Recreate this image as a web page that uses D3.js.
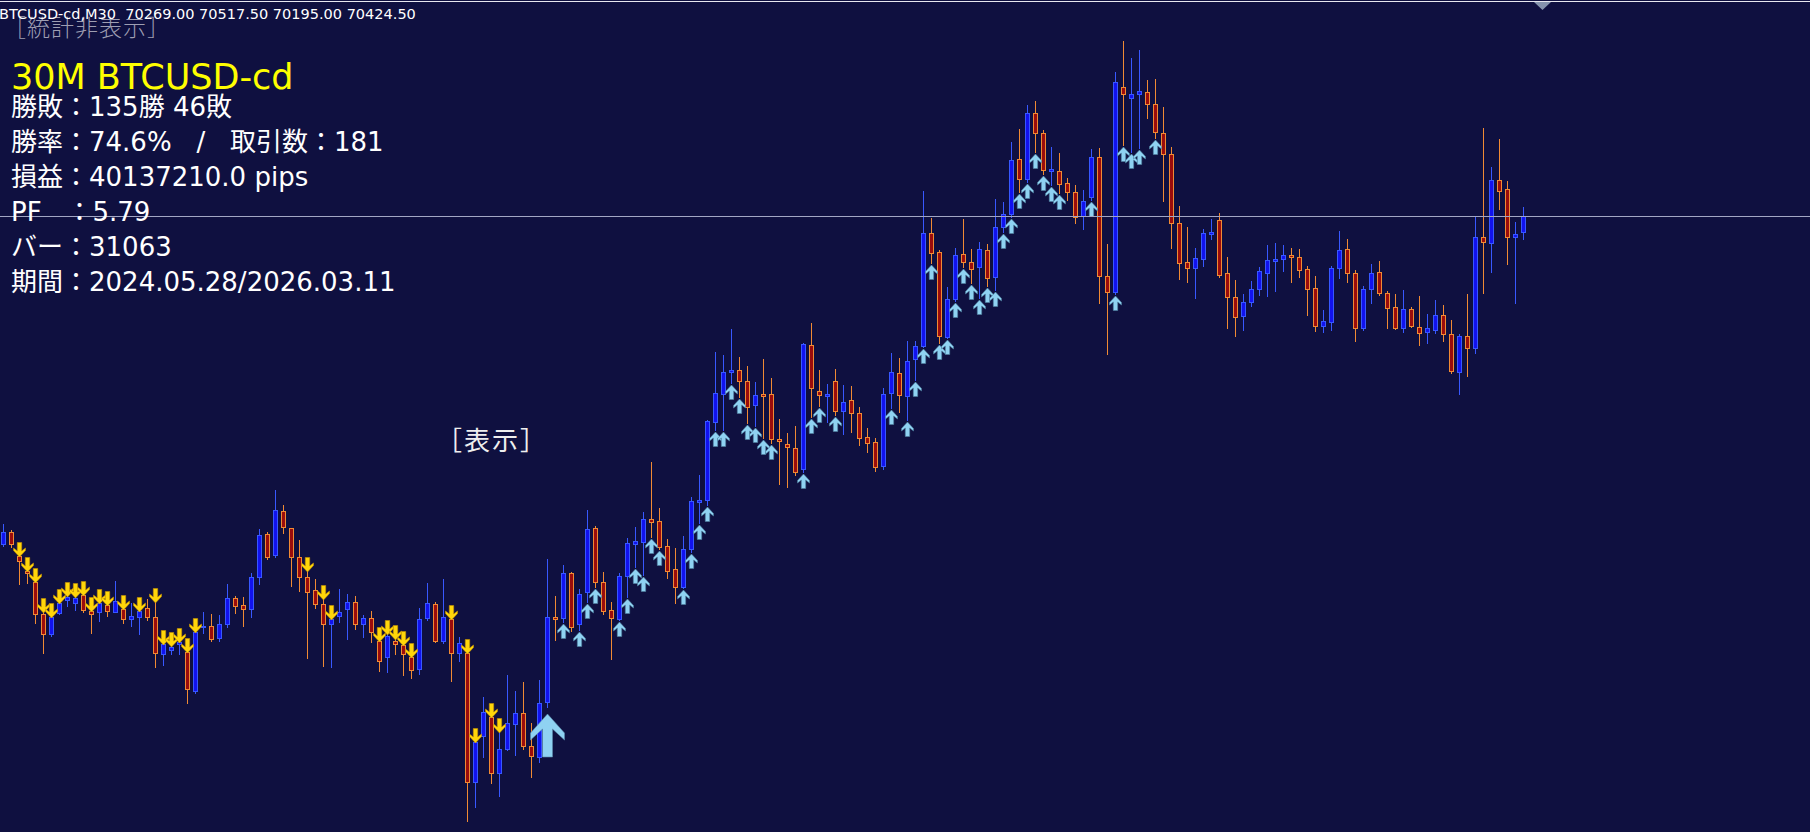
<!DOCTYPE html>
<html>
<head>
<meta charset="utf-8">
<script src="https://cdn.jsdelivr.net/npm/d3@7"></script>
<style>
	html, body { margin: 0; padding: 0; background: #0f1040; overflow: hidden; }
	svg { display: block; }
	text { white-space: pre; }
</style>
</head>
<body>
<div id="chart"></div>
<script>
// 30M candles, oldest first
var open = [
	67145, 67265, 67025, 66875, 66765, 66445, 66245, 66455, 66585, 66555,
	66635, 66475, 66465, 66535, 66465, 66495, 66395, 66415, 66505, 66415,
	66045, 66085, 66145, 66065, 65675, 66315, 66325, 66205, 66345, 66605,
	66535, 66495, 66815, 67245, 67035, 67475, 67305, 67015, 66815, 66685,
	66545, 66345, 66425, 66495, 66565, 66345, 66405, 66175, 66015, 66175,
	66135, 66015, 65895, 66405, 66545, 66175, 66395, 66055, 66055, 64765,
	65225, 65415, 64855, 65095, 65345, 65455, 65125, 65015, 65565, 66415,
	66405, 66855, 66345, 66665, 67305, 66765, 66485, 66395, 66825, 67145,
	67165, 67395, 67375, 67125, 66895, 66715, 67095, 67565, 67585, 68365,
	68645, 68865, 68885, 68775, 68535, 68645, 68645, 68195, 68145, 68105,
	67895, 69135, 68675, 68625, 68775, 68475, 68585, 68455, 68215, 68165,
	67925, 68655, 68855, 68625, 68995, 69125, 70255, 70065, 69215, 69595,
	70045, 69965, 69915, 70085, 69815, 70315, 70445, 70995, 70795, 71455,
	71255, 70875, 70875, 70755, 70665, 70425, 70615, 71015, 69825, 69665,
	71715, 71605, 71645, 71665, 71545, 71255, 71045, 70355, 69965, 69905,
	69995, 70245, 70385, 69855, 69615, 69425, 69565, 69695, 69855, 69975,
	69995, 70035, 70015, 69895, 69705, 69325, 69365, 69905, 70095, 69855,
	69305, 69695, 69865, 69655, 69515, 69305, 69495, 69315, 69265, 69285,
	69435, 69245, 68865, 69225, 69105, 70215, 70155, 70785, 70695, 70215,
	70269
];
var high = [
	67345, 67285, 67025, 66875, 66765, 66465, 66415, 66555, 66625, 66615,
	66635, 66475, 66555, 66535, 66775, 66495, 66555, 66475, 66595, 66565,
	66145, 66125, 66165, 66065, 66265, 66465, 66445, 66435, 66745, 66625,
	66615, 66855, 67295, 67265, 67685, 67535, 67305, 67185, 66875, 66795,
	66595, 66395, 66695, 66645, 66625, 66435, 66475, 66175, 66245, 66195,
	66135, 66015, 66505, 66755, 66565, 66795, 66395, 66215, 66055, 65165,
	65615, 65415, 65265, 65835, 65675, 65765, 65355, 65785, 66995, 66625,
	66935, 66865, 66695, 67485, 67325, 66865, 66565, 66855, 67205, 67315,
	67465, 67965, 67505, 67195, 67105, 67225, 67615, 67835, 68385, 69065,
	69035, 69295, 69015, 68925, 68765, 68995, 68805, 68395, 68255, 68325,
	69155, 69355, 68885, 68745, 68895, 68735, 68725, 68515, 68305, 68205,
	68705, 69055, 69005, 69175, 69175, 70675, 70405, 70085, 69715, 70105,
	70395, 70095, 70165, 70145, 70595, 70565, 71165, 71295, 71535, 71575,
	71285, 71115, 71055, 70805, 70735, 70685, 71095, 71105, 70145, 71865,
	72175, 72005, 72085, 71785, 71795, 71515, 71115, 70525, 70315, 70105,
	70295, 70395, 70455, 70015, 69785, 69645, 69775, 69915, 70135, 70155,
	70135, 70105, 70095, 69925, 69825, 69485, 69925, 70275, 70195, 69885,
	69725, 69945, 69975, 69675, 69645, 69685, 69515, 69625, 69445, 69585,
	69535, 69385, 69245, 69645, 70415, 71305, 70915, 71195, 70775, 70365,
	70517.5
];
var low = [
	67125, 67115, 66745, 66755, 66355, 66055, 66225, 66445, 66525, 66485,
	66465, 66255, 66375, 66425, 66465, 66355, 66325, 66245, 66385, 65915,
	65935, 66045, 66045, 65555, 65655, 66255, 66175, 66175, 66315, 66455,
	66325, 66415, 66745, 66995, 67015, 67255, 66725, 66675, 66005, 66505,
	65925, 65915, 66365, 66195, 66295, 66215, 66165, 65875, 65865, 66045,
	65835, 65805, 65845, 66385, 66165, 66155, 65775, 65975, 64375, 64515,
	65015, 64755, 64625, 65085, 65035, 65095, 64815, 64965, 65515, 66185,
	66365, 66275, 66285, 66565, 66715, 66445, 65995, 66385, 66615, 66915,
	66835, 67215, 67095, 66805, 66555, 66705, 67065, 67355, 67535, 68285,
	68285, 68755, 68615, 68355, 68325, 68205, 68155, 67745, 67715, 67835,
	67865, 68415, 68525, 68365, 68435, 68245, 68265, 68135, 68065, 67875,
	67895, 68505, 68465, 68385, 68785, 69115, 69955, 69155, 69205, 69575,
	69915, 69755, 69605, 69725, 69685, 70265, 70415, 70665, 70765, 71065,
	70845, 70735, 70655, 70585, 70355, 70295, 70585, 69555, 69045, 69645,
	71135, 71065, 71105, 71405, 71205, 70575, 70105, 69795, 69765, 69605,
	69925, 70195, 69815, 69305, 69225, 69285, 69525, 69635, 69625, 69675,
	69875, 69765, 69815, 69435, 69275, 69265, 69285, 69805, 69765, 69175,
	69285, 69555, 69635, 69305, 69295, 69265, 69315, 69135, 69155, 69255,
	69175, 68855, 68645, 68825, 69055, 69655, 69865, 70495, 69945, 69555,
	70195
];
var close = [
	67265, 67145, 66975, 66855, 66445, 66245, 66415, 66555, 66615, 66605,
	66485, 66445, 66555, 66475, 66575, 66395, 66425, 66475, 66415, 66055,
	66145, 66115, 66165, 65695, 66265, 66325, 66195, 66345, 66605, 66525,
	66495, 66815, 67235, 67015, 67485, 67315, 67015, 66815, 66665, 66545,
	66345, 66395, 66465, 66565, 66345, 66405, 66265, 65975, 66225, 66145,
	66045, 65885, 66395, 66555, 66175, 66415, 66055, 66155, 64765, 65165,
	65465, 64855, 65095, 65355, 65455, 65125, 65025, 65555, 66415, 66395,
	66855, 66315, 66645, 67295, 66765, 66475, 66405, 66825, 67155, 67175,
	67395, 67365, 67115, 66875, 66715, 67095, 67575, 67585, 68375, 68655,
	68865, 68885, 68775, 68515, 68635, 68625, 68195, 68175, 68115, 67865,
	69145, 68705, 68635, 68645, 68475, 68565, 68455, 68205, 68155, 67915,
	68645, 68865, 68635, 68975, 69125, 70255, 70055, 69225, 69595, 70035,
	69965, 69895, 70095, 69805, 70315, 70445, 70985, 70795, 71455, 71255,
	70885, 70895, 70745, 70665, 70415, 70575, 71015, 69825, 69665, 71765,
	71645, 71645, 71675, 71545, 71265, 71045, 70355, 69955, 69905, 70005,
	70255, 70265, 69835, 69615, 69415, 69565, 69695, 69875, 69985, 69995,
	70035, 70015, 69885, 69695, 69325, 69375, 69905, 70085, 69855, 69305,
	69695, 69855, 69655, 69505, 69305, 69495, 69325, 69255, 69305, 69435,
	69245, 68875, 69225, 69105, 70215, 70165, 70785, 70675, 70215, 70245,
	70424.5
];

// signal bars (index into the candle arrays)
var sellSignals = [2, 3, 4, 5, 6, 7, 8, 9, 10, 11, 12, 13, 15, 17, 19, 20, 21, 22, 23, 24,
	38, 40, 41, 47, 48, 49, 50, 51, 56, 58, 59, 61, 62];
var buySignals = [70, 72, 73, 74, 77, 78, 79, 80, 81, 82, 85, 86, 87, 88, 89, 90, 91, 92, 93, 94, 95, 96,
	100, 101, 102, 104, 111, 113, 114, 115, 116, 117, 118, 119, 120, 121, 122, 123, 124, 125, 126,
	127, 128, 129, 130, 131, 132, 136, 139, 140, 141, 142, 144];
var entrySignals = [68];

var symbolLabel = "BTCUSD-cd,M30";
var titleLabel = "30M BTCUSD-cd";
var statLines = [
	"勝敗：135勝 46敗",
	"勝率：74.6%   /   取引数：181",
	"損益：40137210.0 pips",
	"PF   ：5.79",
	"バー：31063",
	"期間：2024.05.28/2026.03.11"
];
var hideLabel = "［統計非表示］";
var showLabel = "［表示］";

var width = 1810,
	height = 832,
	n = close.length;

var bg = "#0f1040",
	bullBody = "#1212ee", bullLine = "#3858ff",
	bearBody = "#9a0c0c", bearLine = "#f08a34";

var svg = d3.select("#chart").append("svg")
	.attr("width", width)
	.attr("height", height);

svg.append("rect")
	.attr("width", width)
	.attr("height", height)
	.attr("fill", bg);

var x = d3.scaleLinear().domain([0, n - 1]).range([3, 3 + 8 * (n - 1)]);
var y = d3.scaleLinear().domain([64265, 72585]).range([height, 0]);

function px(i) { return Math.round(x(i)) + 0.5; }

var candles = d3.range(n).map(function(i) {
	return { i: i, o: open[i], h: high[i], l: low[i], c: close[i], bull: close[i] >= open[i] };
});

var g = svg.append("g").attr("class", "candles");

// wicks
g.selectAll("line.wick")
	.data(candles)
	.enter()
	.append("line")
	.attr("class", "wick")
	.attr("x1", function(d) { return px(d.i); })
	.attr("x2", function(d) { return px(d.i); })
	.attr("y1", function(d) { return Math.round(y(d.h)); })
	.attr("y2", function(d) { return Math.round(y(d.l)) + 1; })
	.attr("stroke", function(d) { return d.bull ? bullLine : bearLine; })
	.attr("stroke-width", 1);

// bodies
g.selectAll("rect.body")
	.data(candles)
	.enter()
	.append("rect")
	.attr("class", "body")
	.attr("x", function(d) { return px(d.i) - 2; })
	.attr("y", function(d) { return Math.round(y(Math.max(d.o, d.c))) + 0.5; })
	.attr("width", 4)
	.attr("height", function(d) {
		return Math.max(1, Math.round(y(Math.min(d.o, d.c))) - Math.round(y(Math.max(d.o, d.c))));
	})
	.attr("fill", function(d) { return d.bull ? bullBody : bearBody; })
	.attr("stroke", function(d) { return d.bull ? bullLine : bearLine; })
	.attr("stroke-width", 1);

// arrows
var smallArrow = [[0, 0], [6, 6.5], [6, 9], [2.2, 6], [2.2, 14.5], [-2.2, 14.5], [-2.2, 6], [-6, 9], [-6, 6.5]];
var bigArrow = [[0, 0], [17, 19], [17, 26], [5, 15], [5, 43], [-5, 43], [-5, 15], [-17, 26], [-17, 19]];

function arrowPoints(shape, cx, tip, dir) {
	return shape.map(function(p) {
		return (cx + p[0]) + "," + (tip + dir * p[1]);
	}).join(" ");
}

svg.append("g").selectAll("polygon")
	.data(sellSignals)
	.enter()
	.append("polygon")
	.attr("points", function(i) { return arrowPoints(smallArrow, px(i), Math.round(y(high[i])) + 1, -1); })
	.attr("fill", "#ffd60a")
	.attr("stroke", "#c89200")
	.attr("stroke-width", 0.6);

svg.append("g").selectAll("polygon")
	.data(buySignals)
	.enter()
	.append("polygon")
	.attr("points", function(i) { return arrowPoints(smallArrow, px(i), Math.round(y(low[i])) + 2, 1); })
	.attr("fill", "#8fd2f2")
	.attr("stroke", "#4d7f9e")
	.attr("stroke-width", 0.6);

svg.append("g").selectAll("polygon")
	.data(entrySignals)
	.enter()
	.append("polygon")
	.attr("points", function(i) { return arrowPoints(bigArrow, px(i), Math.round(y(low[i])) + 7, 1); })
	.attr("fill", "#8fd2f2")
	.attr("stroke", "#5a8cab")
	.attr("stroke-width", 0.6);

// bid line at last close
var last = n - 1;
svg.append("line")
	.attr("x1", 0)
	.attr("x2", width)
	.attr("y1", Math.round(y(close[last])) + 0.5)
	.attr("y2", Math.round(y(close[last])) + 0.5)
	.attr("stroke", "#a2a6c4")
	.attr("stroke-width", 1);

// top border + chart shift marker
svg.append("line")
	.attr("x1", 0).attr("x2", width)
	.attr("y1", 1.5).attr("y2", 1.5)
	.attr("stroke", "#e8e8f0");

svg.append("polygon")
	.attr("points", "1534,2 1551,2 1542.5,10")
	.attr("fill", "#8593ad");

// labels
var latinJp = "'DejaVu Sans', 'Noto Sans CJK JP', sans-serif";

svg.append("text")
	.attr("x", 3)
	.attr("y", 36)
	.attr("font-family", "'Noto Sans CJK JP', sans-serif")
	.attr("font-weight", 300)
	.attr("font-size", 23)
	.attr("letter-spacing", 1)
	.attr("fill", "#9e9eb2")
	.text(hideLabel);

svg.append("text")
	.attr("x", -1)
	.attr("y", 19)
	.attr("font-family", latinJp)
	.attr("font-size", 14.5)
	.attr("fill", "#ffffff")
	.text(symbolLabel + "  " + [open[last], high[last], low[last], close[last]].map(function(v) { return v.toFixed(2); }).join(" "));

svg.append("text")
	.attr("x", 11)
	.attr("y", 89)
	.attr("font-family", latinJp)
	.attr("font-size", 35)
	.attr("fill", "#ffff00")
	.text(titleLabel);

svg.append("g").selectAll("text")
	.data(statLines)
	.enter()
	.append("text")
	.attr("x", 11)
	.attr("y", function(d, i) { return 116 + i * 35; })
	.attr("font-family", latinJp)
	.attr("font-size", 26)
	.attr("fill", "#ffffff")
	.text(function(d) { return d; });

svg.append("text")
	.attr("x", 436)
	.attr("y", 450)
	.attr("font-family", "'Noto Sans CJK JP', sans-serif")
	.attr("font-size", 26)
	.attr("letter-spacing", 2)
	.attr("fill", "#eeeeee")
	.text(showLabel);
</script>
</body>
</html>
